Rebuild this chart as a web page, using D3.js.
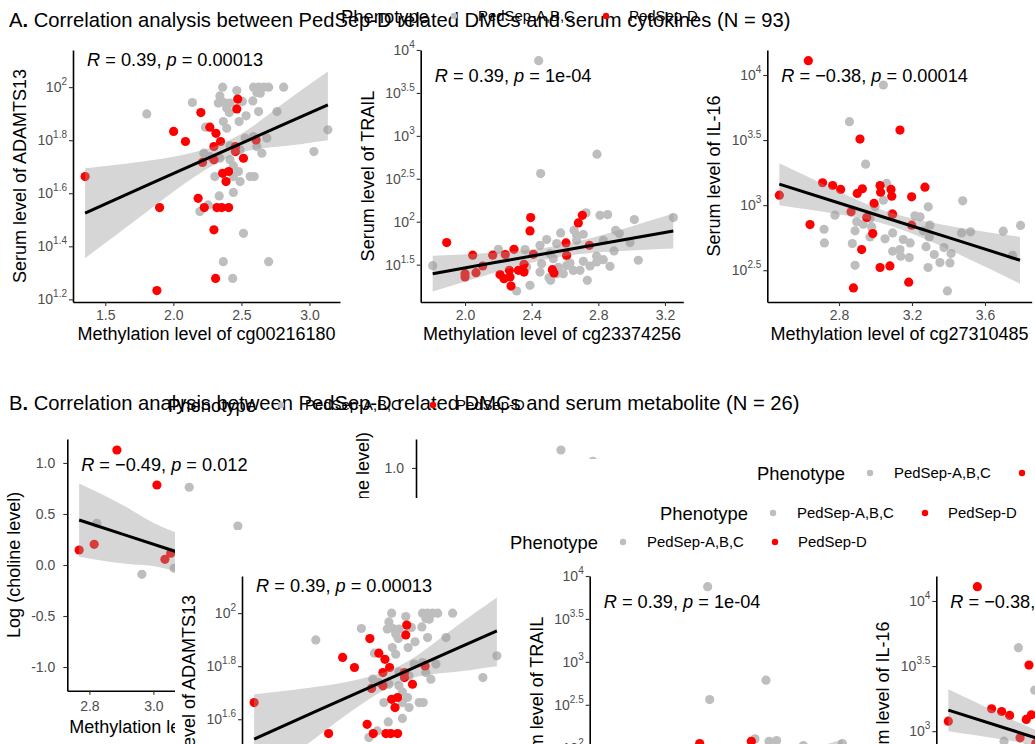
<!DOCTYPE html>
<html>
<head>
<meta charset="utf-8">
<script src="https://cdn.jsdelivr.net/npm/d3@7"></script>
<style>
  body { margin: 0; background: #fff; }
  svg { display: block; font-family: "Liberation Sans", Arial, Helvetica, sans-serif; }
  text { white-space: pre; }
</style>
</head>
<body>
<div id="chart"></div>
<script>
const phenoLabels = ["PedSep-A,B,C", "PedSep-D"];
const phenoColors = ["#BEBEBE", "#FF0000"];

// ---- A1: ADAMTS13 (log10 serum level) vs cg00216180
const a1GrayX = [2.362,2.589,2.626,2.663,2.700,2.810,2.342,2.466,2.613,2.638,2.507,2.584,2.140,2.330,2.372,2.416,2.392,1.805,2.411,2.534,2.626,2.761,2.367,2.483,2.236,2.392,3.135,2.527,2.589,2.687,2.416,2.613,2.224,2.268,2.490,2.650,3.032,2.342,2.416,2.441,2.478,2.305,2.441,2.564,2.594,2.490,2.441,2.337,2.256,2.195,2.515,2.367,2.700,2.436];
const a1GrayY = [2.000,2.000,2.000,2.000,2.000,2.000,1.967,1.987,1.980,1.977,1.946,1.948,1.942,1.940,1.942,1.940,1.921,1.899,1.904,1.892,1.908,1.908,1.870,1.870,1.849,1.845,1.839,1.808,1.814,1.808,1.779,1.776,1.751,1.738,1.764,1.751,1.757,1.732,1.726,1.703,1.682,1.663,1.663,1.663,1.663,1.644,1.603,1.590,1.556,1.531,1.449,1.342,1.342,1.279];
const a1RedX = [2.473,2.466,2.202,2.268,2.002,2.313,2.089,2.347,2.298,2.456,2.456,2.214,2.298,2.515,2.608,2.362,2.406,1.352,2.387,2.182,1.899,2.227,2.320,2.355,2.406,2.298,2.310,1.879];
const a1RedY = [1.955,1.918,1.904,1.849,1.833,1.826,1.795,1.795,1.776,1.776,1.757,1.716,1.726,1.732,1.801,1.675,1.682,1.663,1.644,1.581,1.546,1.546,1.546,1.546,1.546,1.462,1.279,1.233];
const a1FitX = [1.352,1.825,2.362,2.761,3.135];
const a1FitY = [1.525,1.634,1.757,1.848,1.933];
const a1FitLo = [1.355,1.538,1.725,1.775,1.800];
const a1FitHi = [1.694,1.723,1.788,1.921,2.059];

// ---- A2: TRAIL vs cg23374256
const a2GrayX = [2.442,2.792,2.454,2.726,2.81,2.856,3.016,3.25,2.574,2.654,2.67,2.904,2.926,2.99,2.894,3.04,1.806,2.2,2.36,2.45,2.51,2.55,2.53,2.61,2.71,2.79,2.83,2.87,2.734,2.45,2.46,2.504,2.514,2.39,2.31,2.59,2.61,2.75,2.65,2.56,2.71,2.67,2.49,2.83,2.79,2.69,2.63,2.55,2.37];
const a2GrayY = [3.876,2.787,2.561,2.103,2.075,2.083,2.025,2.048,1.869,1.9,1.842,1.9,1.862,1.757,1.66,1.551,1.488,1.679,1.675,1.725,1.628,1.745,1.57,1.597,1.539,1.531,1.558,1.48,1.317,1.414,1.51,1.348,1.317,1.259,1.193,1.395,1.49,1.484,1.433,1.47,1.854,1.784,1.792,1.784,1.597,1.434,1.519,1.395,1.473];
const a2RedX = [1.89,2.394,2.39,2.704,2.68,2.606,2.61,2.746,2.046,2.0,2.0,2.066,2.106,2.166,2.242,2.294,2.21,2.234,2.27,2.266,2.276,2.32,2.354,2.354,2.41,2.524,2.534];
const a2RedY = [1.757,2.048,1.893,2.075,1.986,1.753,1.61,1.725,1.61,1.395,1.356,1.407,1.484,1.61,1.618,1.679,1.384,1.337,1.356,1.434,1.251,1.434,1.414,1.504,1.62,1.442,1.403];
const a2FitX = [1.806,2.17,2.536,2.91,3.25];
const a2FitY = [1.395,1.521,1.647,1.776,1.893];
const a2FitLo = [1.187,1.403,1.581,1.656,1.689];
const a2FitHi = [1.603,1.640,1.713,1.896,2.097];

// ---- A3: IL-16 vs cg27310485
const a3GrayX = [3.043,2.857,2.946,3.061,2.778,2.718,2.72,2.873,2.888,2.888,2.897,2.97,2.998,3.089,3.052,3.094,3.094,3.134,3.138,3.185,3.152,3.19,3.216,3.244,3.262,3.277,3.289,3.295,3.298,3.322,3.288,3.353,3.375,3.408,3.414,3.394,3.472,3.521,3.478,3.7,3.751,3.795,2.97,3.043,2.979,2.933];
const a3GrayY = [3.923,3.641,3.315,3.167,2.923,2.815,2.710,2.705,2.538,2.803,2.872,2.897,2.987,2.936,2.741,2.787,2.646,2.659,2.608,2.597,2.736,2.71,2.918,2.910,2.803,2.681,2.987,2.756,2.846,2.621,2.521,2.559,2.674,2.556,2.628,2.341,2.787,2.795,3.033,2.8,2.615,2.844,2.756,3.038,2.833,2.854];
const a3RedX = [2.632,2.473,2.641,2.71,2.765,2.809,2.915,3.134,2.9,2.928,3.025,3.028,3.085,3.089,3.198,3.271,2.992,2.866,3.094,2.985,3.198,2.924,3.025,3.079,2.879,3.182,2.952];
const a3RedY = [4.110,3.077,2.851,3.172,3.151,3.121,3.508,3.577,3.09,3.126,3.151,3.1,3.121,3.069,3.064,3.138,3.013,2.949,2.931,2.782,2.846,2.659,2.521,2.533,2.364,2.408,2.905];
const a3FitX = [2.473,2.787,3.09,3.445,3.792];
const a3FitY = [3.162,3.022,2.888,2.731,2.577];
const a3FitLo = [2.999,2.932,2.837,2.630,2.397];
const a3FitHi = [3.322,3.113,2.939,2.831,2.756];

// ---- B1: Log(choline level) vs methylation
const b1GrayX = [2.823,2.964,3.112,3.264,3.065];
const b1GrayY = [0.409,-0.091,0.762,0.382,-0.032];
const b1RedX = [2.886,3.011,2.768,2.815,3.036,3.054];
const b1RedY = [1.127,0.784,0.147,0.203,0.056,0.115];
const b1FitX = [2.768,2.92,3.065,3.3];
const b1FitY = [0.441,0.286,0.137,-0.103];
const b1FitLo = [0.08,0.01,-0.059,-0.38];
const b1FitHi = [0.80,0.56,0.327,0.17];

// ---- B2: second metabolite (mostly hidden)
const b2GrayX = [3.184,3.284];
const b2GrayY = [1.176,1.064];

const W = 1035, H = 744;
const svg = d3.select("#chart").append("svg").attr("width", W).attr("height", H);
svg.append("rect").attr("width", W).attr("height", H).attr("fill", "#fff");

function drawLegend(g, x0, cy) {
  g.append("text").attr("x", x0).attr("y", cy + 6.5).attr("font-size", 18.4).attr("fill", "#000").text("Phenotype");
  const keyDx = [113, 265], labDx = [137, 288];
  phenoLabels.forEach((lab, i) => {
    g.append("circle").attr("cx", x0 + keyDx[i]).attr("cy", cy).attr("r", 3.2).attr("fill", phenoColors[i]);
    g.append("text").attr("x", x0 + labDx[i]).attr("y", cy + 5.2).attr("font-size", 14.9).attr("fill", "#000").text(lab);
  });
}

function drawPanel(g, c) {
  const x = d3.scaleLinear().domain(c.xDomain).range([c.left, c.right]);
  const y = d3.scaleLinear().domain(c.yDomain).range([c.bottom, c.top]);
  const pts = c.grayX.map((v, i) => ({ x: v, y: c.grayY[i], k: 0 }))
    .concat(c.redX.map((v, i) => ({ x: v, y: c.redY[i], k: 1 })));

  g.append("g").selectAll("circle").data(pts).join("circle")
    .attr("cx", d => x(d.x)).attr("cy", d => y(d.y)).attr("r", 4.6)
    .attr("fill", d => phenoColors[d.k]);

  if (c.fitX) {
    const fit = c.fitX.map((v, i) => ({ x: v, m: c.fitY[i], lo: c.fitLo[i], hi: c.fitHi[i] }));
    g.append("path").datum(fit)
      .attr("d", d3.area().curve(d3.curveNatural).x(d => x(d.x)).y0(d => y(d.lo)).y1(d => y(d.hi)))
      .attr("fill", "#999999").attr("fill-opacity", 0.4);
    g.append("path").datum(fit)
      .attr("d", d3.line().x(d => x(d.x)).y(d => y(d.m)))
      .attr("fill", "none").attr("stroke", "#000").attr("stroke-width", 3);
  }

  const xa = g.append("g").attr("transform", `translate(0,${c.bottom})`)
    .call(d3.axisBottom(x).tickValues(c.xTicks).tickFormat(d => d.toFixed(1))
      .tickSize(4).tickSizeOuter(0).tickPadding(c.xPad || 4));
  const ya = g.append("g").attr("transform", `translate(${c.left},0)`)
    .call(d3.axisLeft(y).tickValues(c.yTicks).tickFormat(d => d.toFixed(1))
      .tickSize(4).tickSizeOuter(0).tickPadding(c.log ? 2 : 8));
  [xa, ya].forEach(a => {
    a.attr("font-family", null).attr("font-size", 14);
    a.select(".domain").attr("stroke", "#000").attr("stroke-width", 1.6);
    a.selectAll(".tick line").attr("stroke", "#333").attr("stroke-width", 1.1);
    a.selectAll(".tick text").attr("fill", "#4D4D4D");
  });
  if (c.log) {
    ya.selectAll(".tick text").text(null).each(function (d) {
      const t = d3.select(this);
      t.append("tspan").text("10");
      t.append("tspan").attr("dy", -7).attr("font-size", 10).text(d3.format("~g")(d));
    });
  }

  g.append("text").attr("x", (c.left + c.right) / 2).attr("y", c.bottom + (c.xTitleDy || 38))
    .attr("text-anchor", "middle").attr("font-size", 18).attr("fill", "#000").text(c.xTitle);
  g.append("text")
    .attr("transform", `translate(${c.left - 47},${c.yTitleEnd || (c.top + c.bottom) / 2}) rotate(-90)`)
    .attr("text-anchor", c.yTitleEnd ? "end" : "middle").attr("font-size", 18).attr("fill", "#000").text(c.yTitle);

  if (c.stat) {
    const allX = c.grayX.concat(c.redX);
    const st = g.append("text").attr("x", x(d3.min(allX)) + 2).attr("y", c.statY)
      .attr("font-size", 18.2).attr("fill", "#000");
    st.append("tspan").attr("font-style", "italic").text("R");
    st.append("tspan").text(` = ${c.stat[0]}, `);
    st.append("tspan").attr("font-style", "italic").text("p");
    st.append("tspan").text(` = ${c.stat[1]}`);
  }
}

const rowA = [
  { left: 73, right: 340, top: 50, bottom: 302, xDomain: [1.263, 3.224], yDomain: [1.19, 2.14],
    xTicks: [1.5, 2, 2.5, 3], yTicks: [1.2, 1.4, 1.6, 1.8, 2], log: true,
    grayX: a1GrayX, grayY: a1GrayY, redX: a1RedX, redY: a1RedY,
    fitX: a1FitX, fitY: a1FitY, fitLo: a1FitLo, fitHi: a1FitHi,
    xTitle: "Methylation level of cg00216180", yTitle: "Serum level of ADAMTS13",
    stat: ["0.39", "0.00013"], statY: 66 },
  { left: 420.7, right: 683.3, top: 50, bottom: 302, xDomain: [1.734, 3.31], yDomain: [1.065, 4.0],
    xTicks: [2.0, 2.4, 2.8, 3.2], yTicks: [1.5, 2, 2.5, 3, 3.5, 4], log: true,
    grayX: a2GrayX, grayY: a2GrayY, redX: a2RedX, redY: a2RedY,
    fitX: a2FitX, fitY: a2FitY, fitLo: a2FitLo, fitHi: a2FitHi,
    xTitle: "Methylation level of cg23374256", yTitle: "Serum level of TRAIL",
    stat: ["0.39", "1e-04"], statY: 82 },
  { left: 767.3, right: 1031.7, top: 50, bottom: 302, xDomain: [2.407, 3.856], yDomain: [2.256, 4.192],
    xTicks: [2.8, 3.2, 3.6], yTicks: [2.5, 3, 3.5, 4], log: true,
    grayX: a3GrayX, grayY: a3GrayY, redX: a3RedX, redY: a3RedY,
    fitX: a3FitX, fitY: a3FitY, fitLo: a3FitLo, fitHi: a3FitHi,
    xTitle: "Methylation level of cg27310485", yTitle: "Serum level of IL-16",
    stat: ["\u22120.38", "0.00014"], statY: 82 }
];

function drawRow(g) {
  drawLegend(g, 341, 16);
  rowA.forEach(c => drawPanel(g.append("g"), c));
}

function drawTitle(g, letter, rest, y) {
  const t = g.append("text").attr("x", 9).attr("y", y).attr("font-size", 20.2).attr("fill", "#000");
  t.append("tspan").text(letter);
  t.append("tspan").attr("font-weight", "bold").text(".");
  t.append("tspan").text(rest);
}

// ---- Section A
const secA = svg.append("g");
drawTitle(secA, "A", " Correlation analysis between PedSep-D related DMCs and serum cytokines (N = 93)", 27);
drawRow(secA);

// ---- Section B
const secB = svg.append("g");
drawPanel(secB.append("g"), {
  left: 67.3, right: 329.4, top: 439, bottom: 690.7, xDomain: [2.731, 3.55], yDomain: [-1.232, 1.235],
  xTicks: [2.8, 3.0, 3.2, 3.4], yTicks: [-1, -0.5, 0, 0.5, 1], xPad: 6, xTitleDy: 42,
  grayX: b1GrayX, grayY: b1GrayY, redX: b1RedX, redY: b1RedY,
  fitX: b1FitX, fitY: b1FitY, fitLo: b1FitLo, fitHi: b1FitHi,
  xTitle: "Methylation level of cg27310485", yTitle: "Log (choline level)",
  stat: ["\u22120.49", "0.012"], statY: 471
});
drawPanel(secB.append("g"), {
  left: 416, right: 678, top: 439, bottom: 691, xDomain: [2.731, 3.55], yDomain: [-1.186, 1.284],
  xTicks: [2.8, 3.0, 3.2, 3.4], yTicks: [-1, -0.5, 0, 0.5, 1],
  grayX: b2GrayX, grayY: b2GrayY, redX: [], redY: [],
  xTitle: "Methylation level of cg27310485", yTitle: "Log (carnitine level)", yTitleEnd: 432
});
drawTitle(secB, "B", " Correlation analysis between PedSep-D related DMCs and serum metabolite (N = 26)", 410);
drawLegend(secB, 168, 405);

// overlapping legend layers
svg.append("rect").attr("x", 420).attr("y", 459).attr("width", W - 420).attr("height", H - 459).attr("fill", "#fff");
drawLegend(svg.append("g"), 757, 473);
svg.append("rect").attr("x", 300).attr("y", 498).attr("width", W - 300).attr("height", H - 498).attr("fill", "#fff");
drawLegend(svg.append("g"), 660, 513);

// shifted copy of row A
svg.append("rect").attr("x", 175).attr("y", 530).attr("width", W - 175).attr("height", H - 530).attr("fill", "#fff");
drawRow(svg.append("g").attr("transform", "translate(169,526)"));
</script>
</body>
</html>
